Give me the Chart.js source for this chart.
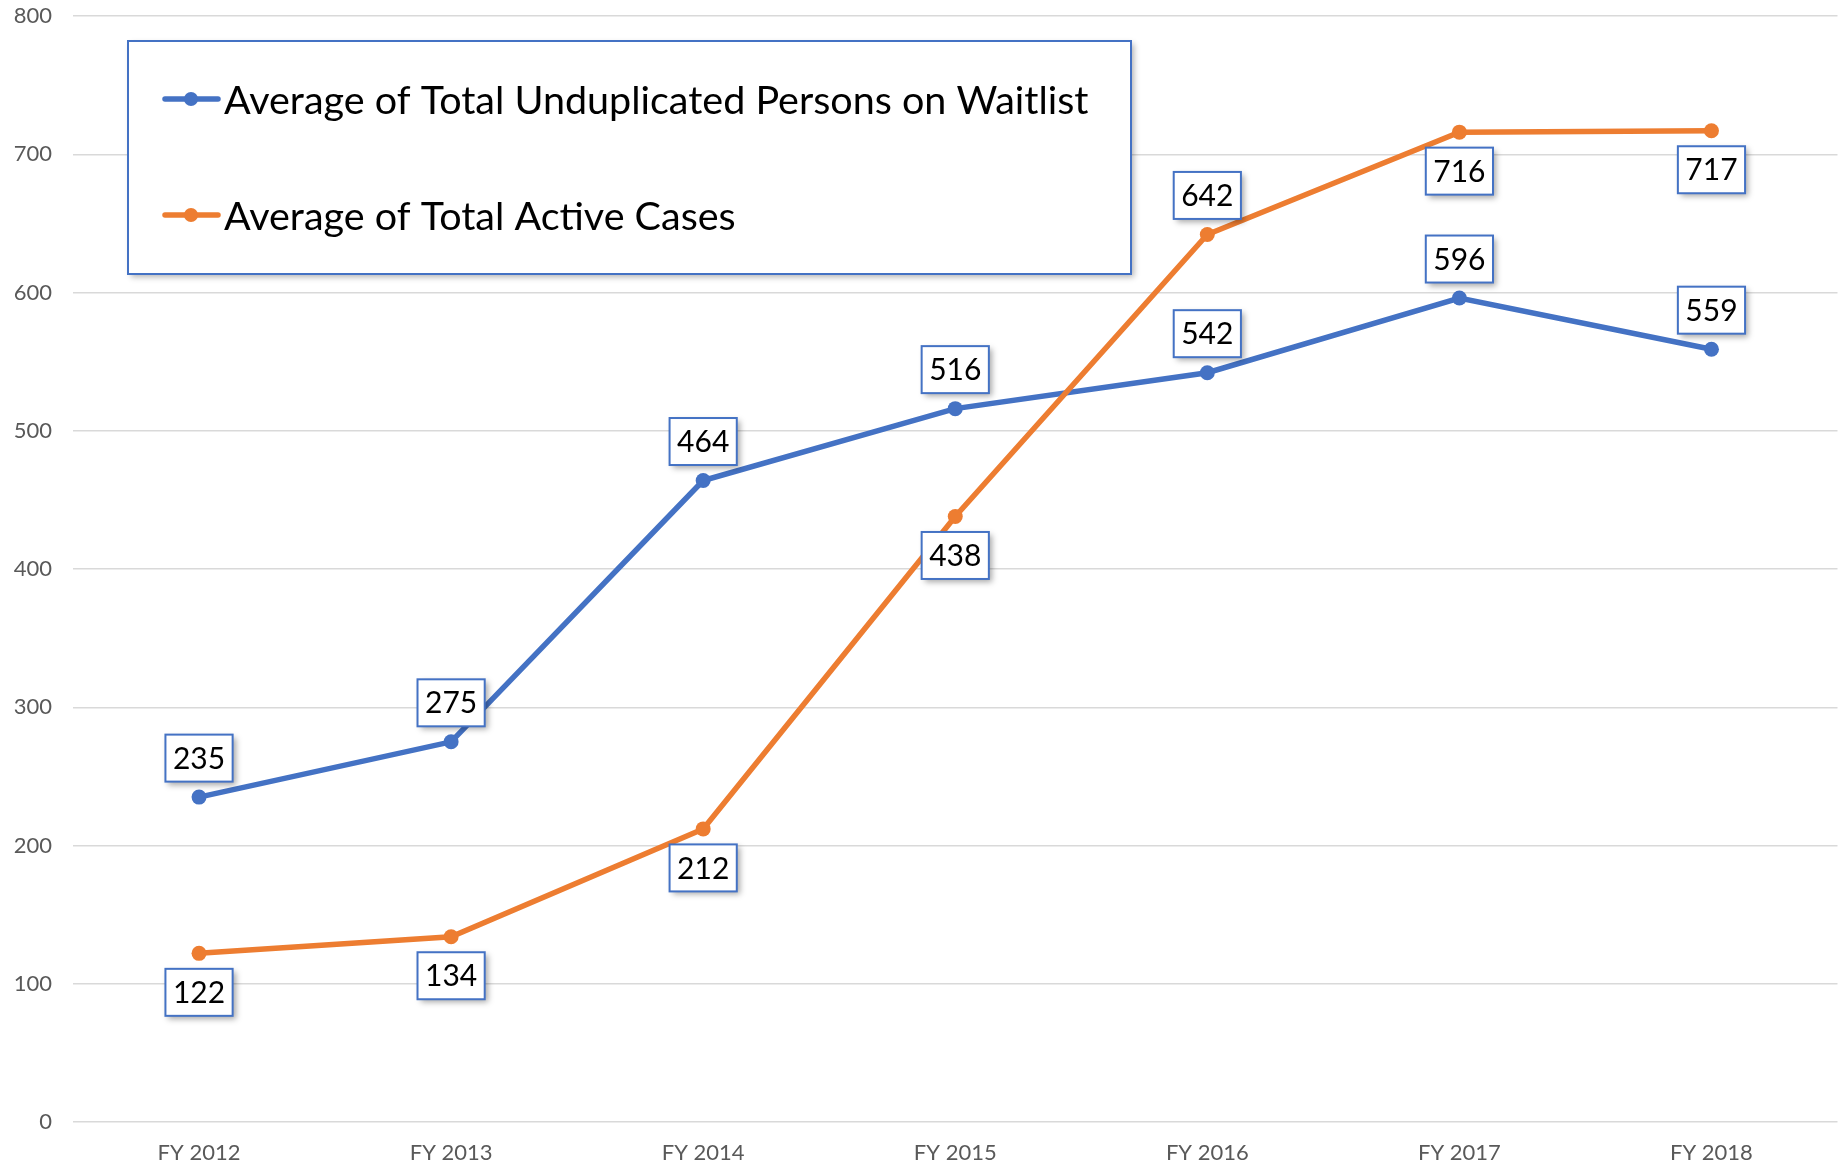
<!DOCTYPE html>
<html>
<head>
<meta charset="utf-8">
<script src="https://cdn.jsdelivr.net/npm/chart.js@4"></script>
<style>
  html, body { margin: 0; padding: 0; background: #fff; }
  canvas { display: block; }
</style>
</head>
<body>
<canvas id="lineChart" width="1845" height="1175"></canvas>
<script>
const categories = ['FY 2012', 'FY 2013', 'FY 2014', 'FY 2015', 'FY 2016', 'FY 2017', 'FY 2018'];
const waitlistValues = [235, 275, 464, 516, 542, 596, 559];
const activeValues = [122, 134, 212, 438, 642, 716, 717];
const seriesNames = ['Average of Total Unduplicated Persons on Waitlist', 'Average of Total Active Cases'];
// which side of the point each value box sits on
const waitlistLabelSide = ['above', 'above', 'above', 'above', 'above', 'above', 'above'];
const activeLabelSide = ['below', 'below', 'below', 'below', 'above', 'below', 'below'];

const FONT = 'Lato, "Open Sans", sans-serif';
const BLUE = '#4472C4';
const ORANGE = '#ED7D31';

// value boxes (white box, blue border, soft shadow)
const valueBoxPlugin = {
    id: 'valueBoxes',
    afterDatasetsDraw(chart) {
        const ctx = chart.ctx;
        ctx.save();
        ctx.font = '30px ' + FONT;
        ctx.textAlign = 'center';
        ctx.textBaseline = 'middle';
        chart.data.datasets.forEach((ds, di) => {
            const meta = chart.getDatasetMeta(di);
            meta.data.forEach((pt, i) => {
                const text = String(ds.data[i]);
                const tw = ctx.measureText(text).width;
                const w = tw + 15, h = 47;
                const side = ds.labelSide[i];
                const cy = side === 'above' ? pt.y - 39 : pt.y + 39;
                const bx = pt.x - w / 2, by = cy - h / 2;
                ctx.shadowColor = 'rgba(0,0,0,0.35)';
                ctx.shadowBlur = 6;
                ctx.shadowOffsetX = 3;
                ctx.shadowOffsetY = 3;
                ctx.fillStyle = '#fff';
                ctx.fillRect(bx, by, w, h);
                ctx.shadowColor = 'transparent';
                ctx.strokeStyle = BLUE;
                ctx.lineWidth = 2;
                ctx.strokeRect(bx, by, w, h);
                ctx.fillStyle = '#000';
                ctx.fillText(text, pt.x, cy + 1);
            });
        });
        ctx.restore();
    }
};

// legend box sitting inside the plot
const legendBoxPlugin = {
    id: 'legendBox',
    afterDraw(chart) {
        const ctx = chart.ctx;
        const area = chart.chartArea;
        const x = area.left + 55, y = area.top + 25, w = 1003, h = 233;
        ctx.save();
        ctx.shadowColor = 'rgba(0,0,0,0.3)';
        ctx.shadowBlur = 6;
        ctx.shadowOffsetX = 3;
        ctx.shadowOffsetY = 3;
        ctx.fillStyle = '#fff';
        ctx.fillRect(x, y, w, h);
        ctx.shadowColor = 'transparent';
        ctx.strokeStyle = BLUE;
        ctx.lineWidth = 2;
        ctx.strokeRect(x, y, w, h);

        ctx.font = '39.5px ' + FONT;
        ctx.textBaseline = 'middle';
        ctx.textAlign = 'left';
        chart.data.datasets.forEach((ds, i) => {
            const cy = y + 58 + i * 116;
            ctx.strokeStyle = ds.borderColor;
            ctx.lineWidth = 5.5;
            ctx.lineCap = 'round';
            ctx.beginPath();
            ctx.moveTo(x + 37, cy);
            ctx.lineTo(x + 90, cy);
            ctx.stroke();
            ctx.fillStyle = ds.borderColor;
            ctx.beginPath();
            ctx.arc(x + 63, cy, 7, 0, Math.PI * 2);
            ctx.fill();
            ctx.fillStyle = '#000';
            ctx.fillText(ds.label, x + 96, cy + 2);
        });
        ctx.restore();
    }
};

const ctx = document.getElementById('lineChart').getContext('2d');
new Chart(ctx, {
    type: 'line',
    data: {
        labels: categories,
        datasets: [{
            label: seriesNames[0],
            data: waitlistValues,
            labelSide: waitlistLabelSide,
            borderColor: BLUE,
            backgroundColor: BLUE,
            borderWidth: 5.5,
            pointRadius: 7.5,
            pointBorderWidth: 0,
            order: 2
        }, {
            label: seriesNames[1],
            data: activeValues,
            labelSide: activeLabelSide,
            borderColor: ORANGE,
            backgroundColor: ORANGE,
            borderWidth: 5.5,
            pointRadius: 7.5,
            pointBorderWidth: 0,
            order: 1
        }]
    },
    options: {
        responsive: false,
        animation: false,
        layout: { padding: { top: 16, right: 6, left: 0, bottom: 0 } },
        plugins: {
            legend: { display: false },
            tooltip: { enabled: false }
        },
        scales: {
            x: {
                offset: true,
                grid: { display: false, drawTicks: false },
                border: { display: false },
                ticks: { color: '#595959', font: { family: FONT, size: 22 }, padding: 18 },
                afterFit: s => { s.height = 53; }
            },
            y: {
                min: 0,
                max: 800,
                ticks: { stepSize: 100, color: '#595959', font: { family: FONT, size: 22 }, padding: 21 },
                grid: { color: '#D9D9D9', lineWidth: 1.5, drawTicks: false },
                border: { display: false },
                afterFit: s => {
                    s.width = 73;
                    s.paddingTop = 0;
                    s.paddingBottom = 0;
                }
            }
        }
    },
    plugins: [valueBoxPlugin, legendBoxPlugin]
});
</script>
</body>
</html>
